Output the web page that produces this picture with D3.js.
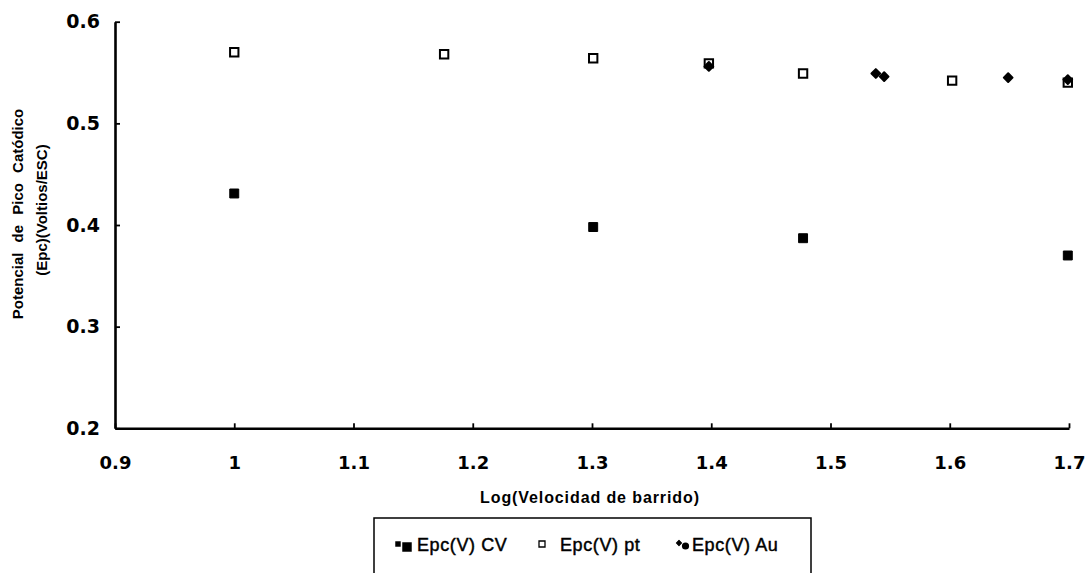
<!DOCTYPE html>
<html><head><meta charset="utf-8">
<script src="https://cdn.jsdelivr.net/npm/d3@7"></script>
<style>body{margin:0;background:#fff}svg{display:block}</style>
</head><body><svg id="c" width="1086" height="573"></svg>
<script>
const xTicks=[0.9,1,1.1,1.2,1.3,1.4,1.5,1.6,1.7];
const xTickLabels=["0.9","1","1.1","1.2","1.3","1.4","1.5","1.6","1.7"];
const yTicks=[0.2,0.3,0.4,0.5,0.6];
const yTickLabels=["0.2","0.3","0.4","0.5","0.6"];
const cvX=[1.0,1.301,1.477,1.699];
const cvY=[0.431,0.398,0.387,0.370];
const ptX=[1.0,1.176,1.301,1.398,1.477,1.602,1.699];
const ptY=[0.570,0.568,0.564,0.559,0.549,0.542,0.540];
const auX=[1.398,1.538,1.545,1.649,1.699];
const auY=[0.556,0.549,0.546,0.545,0.543];
const seriesNames=["Epc(V) CV","Epc(V) pt","Epc(V) Au"];
const xTitle="Log(Velocidad de barrido)";
const yTitle1="Potencial de Pico Catódico";
const yTitle2="(Epc)(Voltios/ESC)";

const svg=d3.select("#c");
const x=d3.scaleLinear().domain([0.9,1.7]).range([115,1069]);
const y=d3.scaleLinear().domain([0.2,0.6]).range([428.3,21.7]);

// axes
const xAxis=d3.axisBottom(x).tickValues(xTicks).tickFormat((d,i)=>xTickLabels[i])
  .tickSizeInner(-5).tickSizeOuter(0).tickPadding(28);
const gx=svg.append("g").attr("transform",`translate(0,${y(0.2)})`).call(xAxis);
const yAxis=d3.axisLeft(y).tickValues(yTicks).tickFormat((d,i)=>yTickLabels[i])
  .tickSizeInner(-5).tickSizeOuter(0).tickPadding(15);
const gy=svg.append("g").attr("transform",`translate(${x(0.9)},0)`).call(yAxis);
[gx,gy].forEach(g=>{
  g.select(".domain").attr("stroke","#000").attr("stroke-width",2.6);
  g.selectAll(".tick line").attr("stroke","#000").attr("stroke-width",1.8);
  g.selectAll(".tick text").attr("fill","#000")
    .style("font-family","'DejaVu Sans'").style("font-weight","bold");
});
gx.selectAll(".tick text").style("font-size","18px");
gy.selectAll(".tick text").style("font-size","19px");

// titles
svg.append("text").attr("x",590).attr("y",503).attr("text-anchor","middle")
  .style("font-family","'Liberation Sans',Arial").style("font-weight","bold")
  .style("font-size","16px").style("letter-spacing","0.9px").text(xTitle);
const yt=svg.append("g").attr("transform","translate(0,214) rotate(-90)");
yt.append("text").attr("x",0).attr("y",23).attr("text-anchor","middle")
  .style("font-family","'Liberation Sans',Arial").style("font-weight","bold")
  .style("font-size","15px").style("word-spacing","6px").text(yTitle1);
yt.append("text").attr("x",4).attr("y",47).attr("text-anchor","middle")
  .style("font-family","'Liberation Sans',Arial").style("font-weight","bold")
  .style("font-size","15px").text(yTitle2);

// markers
const sq=d3.symbol().type(d3.symbolSquare);
svg.append("g").selectAll("path").data(ptX.map((v,i)=>[v,ptY[i]])).join("path")
  .attr("d",sq.size(70)()).attr("transform",d=>`translate(${x(d[0])},${y(d[1])})`)
  .attr("fill","#fff").attr("stroke","#000").attr("stroke-width",2);
svg.append("g").selectAll("path").data(auX.map((v,i)=>[v,auY[i]])).join("path")
  .attr("d",sq.size(38)()).attr("transform",d=>`translate(${x(d[0])},${y(d[1])}) rotate(45)`)
  .attr("fill","#000").attr("stroke","#000").attr("stroke-width",2).attr("stroke-linejoin","round");
svg.append("g").selectAll("path").data(cvX.map((v,i)=>[v,cvY[i]])).join("path")
  .attr("d",sq.size(80)()).attr("transform",d=>`translate(${x(d[0])},${y(d[1])})`)
  .attr("fill","#000").attr("stroke","#000").attr("stroke-width",1).attr("stroke-linejoin","round");

// legend
const lg=svg.append("g");
lg.append("rect").attr("x",374).attr("y",518).attr("width",437).attr("height",70)
  .attr("fill","none").attr("stroke","#000").attr("stroke-width",1.5);
const ltxt=(tx,s)=>lg.append("text").attr("x",tx).attr("y",551)
  .style("font-family","'Liberation Sans',Arial").style("font-size","18px")
  .attr("fill","#000").attr("stroke","#000").attr("stroke-width",0.45)
  .style("letter-spacing","0.6px").text(s);
// CV marker (doubled)
lg.append("path").attr("d",sq.size(30)()).attr("transform","translate(398,544)").attr("fill","#000");
lg.append("path").attr("d",sq.size(90)()).attr("transform","translate(407,547)").attr("fill","#000");
ltxt(417,seriesNames[0]);
// pt marker
lg.append("path").attr("d",sq.size(36)()).attr("transform","translate(542,544)")
  .attr("fill","#fff").attr("stroke","#000").attr("stroke-width",1.3);
ltxt(560,seriesNames[1]);
// Au marker (doubled)
lg.append("path").attr("d",sq.size(14)()).attr("transform","translate(679,543) rotate(45)")
  .attr("fill","#000").attr("stroke","#000").attr("stroke-width",1).attr("stroke-linejoin","round");
lg.append("circle").attr("cx",685.5).attr("cy",546).attr("r",3.6).attr("fill","#000");
ltxt(692,seriesNames[2]);
</script></body></html>
